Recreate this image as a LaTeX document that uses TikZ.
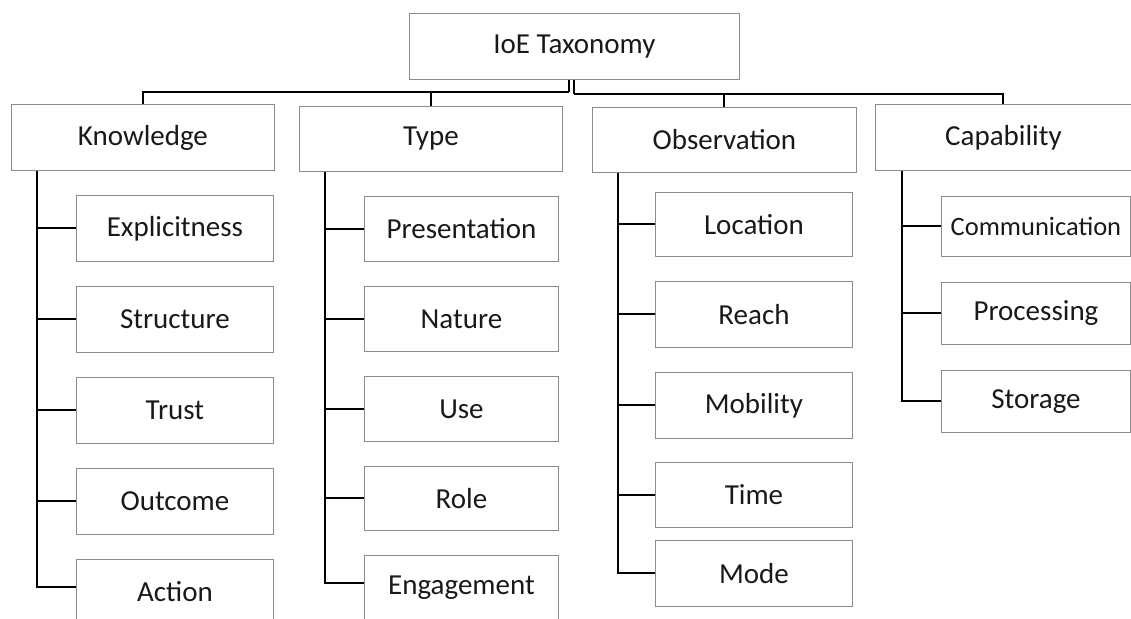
\documentclass[tikz,border=0pt]{standalone}
\usepackage{fontspec}
\setmainfont{Carlito}
\begin{document}
\begin{tikzpicture}[x=1pt,y=-1pt,
  box/.style={draw=black!45, line width=0.9pt, rectangle, inner sep=0pt,
    anchor=north west, text=black!90, font=\fontsize{29}{31}\selectfont},
  conn/.style={draw=black, line width=2pt}]
\useasboundingbox (0,0) rectangle (1131,618);

% root
\node[box, minimum width=330pt, minimum height=66pt] (root) at (409,13) {IoE Taxonomy};

% top-level categories
\node[box, minimum width=263pt, minimum height=66pt] (kn) at (11,104) {Knowledge};
\node[box, minimum width=263pt, minimum height=65pt] (ty) at (299,106) {Type};
\node[box, minimum width=264pt, minimum height=65pt] (ob) at (592,107) {Observation};
\node[box, minimum width=256pt, minimum height=66pt] (ca) at (875,104) {Capability};

% Knowledge children
\node[box, minimum width=197pt, minimum height=66pt] (k1) at (76,195) {Explicitness};
\node[box, minimum width=197pt, minimum height=66pt] (k2) at (76,286) {Structure};
\node[box, minimum width=197pt, minimum height=66pt] (k3) at (76,377) {Trust};
\node[box, minimum width=197pt, minimum height=66pt] (k4) at (76,468) {Outcome};
\node[box, minimum width=197pt, minimum height=64pt] (k5) at (76,559) {Action};

% Type children
\node[box, minimum width=194pt, minimum height=65pt] (t1) at (364,196) {Presentation};
\node[box, minimum width=194pt, minimum height=65pt] (t2) at (364,286) {Nature};
\node[box, minimum width=194pt, minimum height=65pt] (t3) at (364,376) {Use};
\node[box, minimum width=194pt, minimum height=64pt] (t4) at (364,466) {Role};
\node[box, minimum width=194pt, minimum height=64pt] (t5) at (364,555) {Engagement};

% Observation children
\node[box, minimum width=197pt, minimum height=64pt] (o1) at (655,192) {Location};
\node[box, minimum width=197pt, minimum height=66pt] (o2) at (655,281) {Reach};
\node[box, minimum width=197pt, minimum height=66pt] (o3) at (655,372) {Mobility};
\node[box, minimum width=197pt, minimum height=65pt] (o4) at (655,462) {Time};
\node[box, minimum width=197pt, minimum height=66pt] (o5) at (655,540) {Mode};

% Capability children
\node[box, minimum width=189pt, minimum height=60pt, font=\fontsize{26.5}{28}\selectfont] (c1) at (941,196) {Communication};
\node[box, minimum width=189pt, minimum height=62pt] (c2) at (941,282) {Processing};
\node[box, minimum width=189pt, minimum height=62pt] (c3) at (941,370) {Storage};

% bus from the root to the four categories
\coordinate (busL) at (569,92);
\coordinate (busR) at (574,93.5);
\draw[conn] (root.south -| busL) -- (busL);
\draw[conn] (root.south -| busR) -- (busR);
\draw[conn] (busL) -| (kn.north);
\draw[conn] (busL) -| (ty.north);
\draw[conn] (busR) -| (ob.north);
\draw[conn] (busR) -| (ca.north);

% spines down the left of each category
\coordinate (ks) at ([xshift=26pt]kn.south west);
\coordinate (ts) at ([xshift=26pt]ty.south west);
\coordinate (os) at ([xshift=26pt]ob.south west);
\coordinate (cs) at ([xshift=27pt]ca.south west);

% the last two columns end a little above the centre of the lowest box
\draw[conn] (ks) |- ([yshift=4pt]k5.west);
\foreach \i in {1,...,4} \draw[conn] (k\i.west) -- (k\i.west -| ks);
\draw[conn] (ts) |- ([yshift=4pt]t5.west);
\foreach \i in {1,...,4} \draw[conn] (t\i.west) -- (t\i.west -| ts);
\draw[conn] (os) |- (o5.west);
\foreach \i in {1,...,4} \draw[conn] (o\i.west) -- (o\i.west -| os);
\draw[conn] (cs) |- (c3.west);
\foreach \i in {1,2} \draw[conn] (c\i.west) -- (c\i.west -| cs);
\end{tikzpicture}
\end{document}
